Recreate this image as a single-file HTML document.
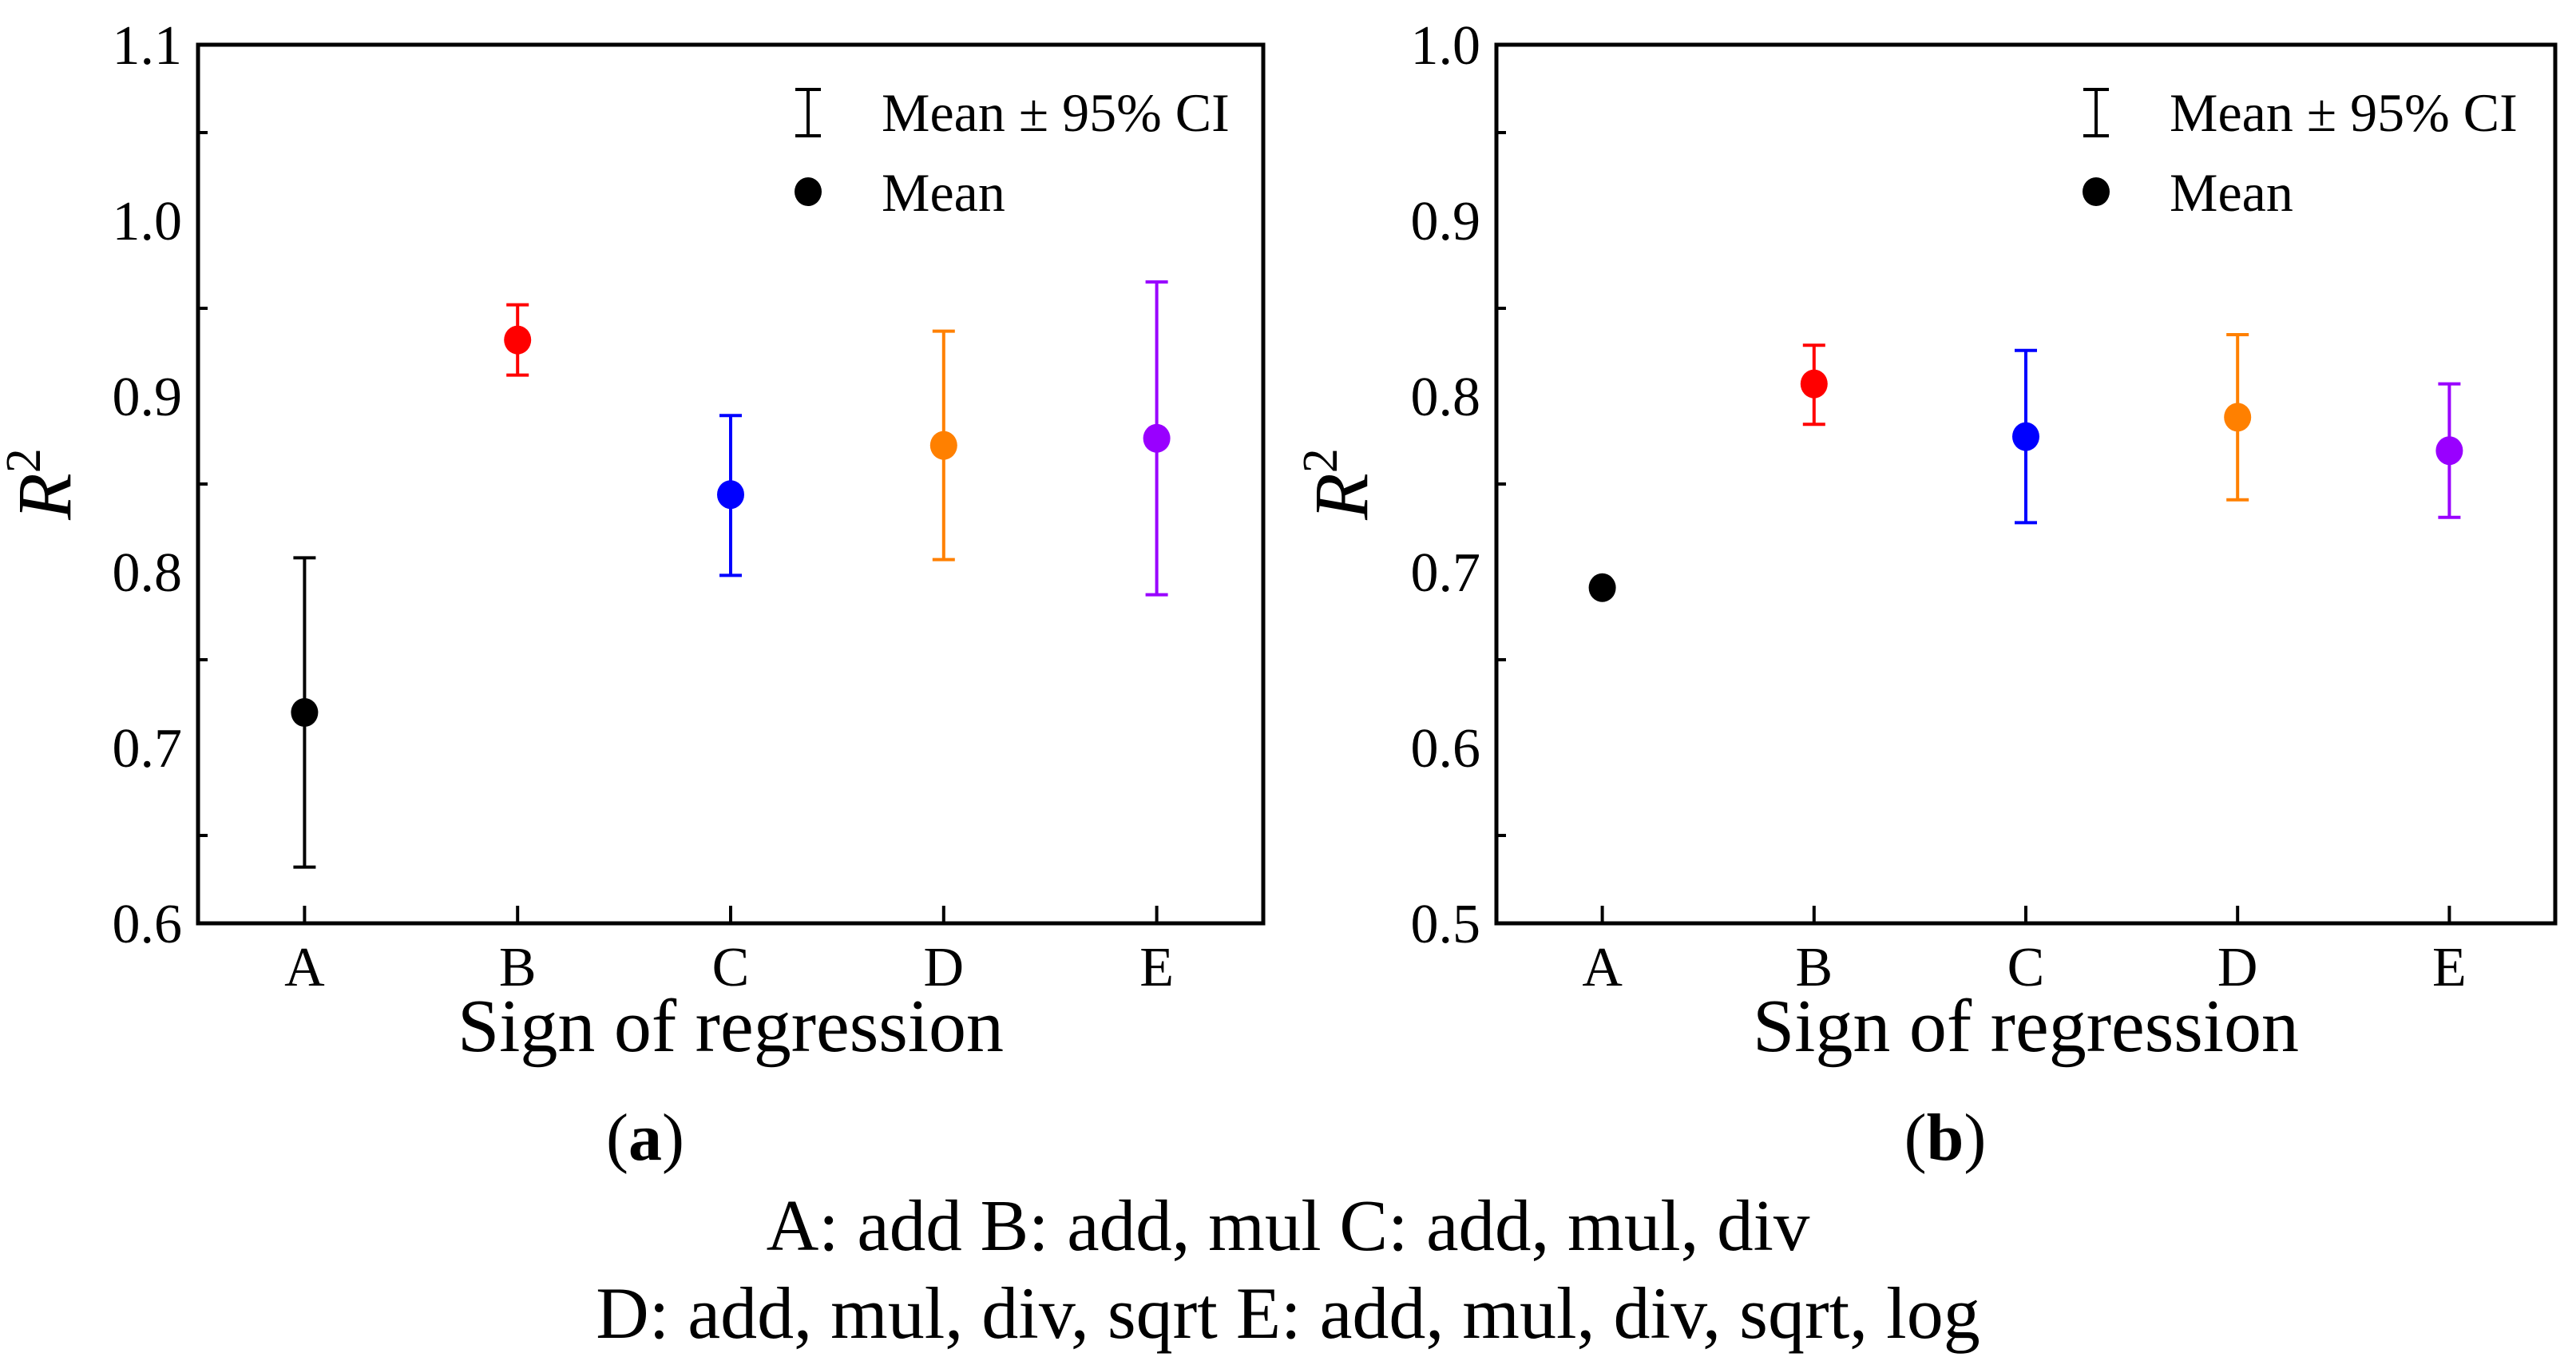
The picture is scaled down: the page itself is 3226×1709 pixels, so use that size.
<!DOCTYPE html>
<html><head><meta charset="utf-8">
<style>
html,body{margin:0;padding:0;background:#fff;}
svg{display:block;font-family:"Liberation Serif",serif;}
</style></head>
<body>
<svg id="fig" width="3226" height="1709" viewBox="0 0 3226 1709" xmlns="http://www.w3.org/2000/svg">
<rect width="3226" height="1709" fill="#fff"/>
<g id="pa"></g>
<g id="pb"></g>
<text x="808" y="1452" font-size="84" text-anchor="middle">(<tspan font-weight="bold">a</tspan>)</text>
<text x="2436" y="1452" font-size="84" text-anchor="middle">(<tspan font-weight="bold">b</tspan>)</text>
<text x="1613" y="1565" font-size="91" text-anchor="middle">A: add B: add, mul C: add, mul, div</text>
<text x="1613" y="1675" font-size="92" text-anchor="middle">D: add, mul, div, sqrt E: add, mul, div, sqrt, log</text>
</svg>
<script>
const categories = ["A","B","C","D","E"];
const colors = ["#000000","#ff0000","#0000ff","#ff8000","#9900ff"];
const meanA = [0.720, 0.932, 0.844, 0.872, 0.876];
const lowA  = [0.632, 0.912, 0.798, 0.807, 0.787];
const highA = [0.808, 0.952, 0.889, 0.937, 0.965];
const ticksA = [0.6, 0.7, 0.8, 0.9, 1.0, 1.1];
const meanB = [0.691, 0.807, 0.777, 0.788, 0.769];
const lowB  = [null, 0.784, 0.728, 0.741, 0.731];
const highB = [null, 0.829, 0.826, 0.835, 0.807];
const ticksB = [0.5, 0.6, 0.7, 0.8, 0.9, 1.0];

const NS = "http://www.w3.org/2000/svg";
function mk(parent, tag, attrs, text){
  const e = document.createElementNS(NS, tag);
  for (const k in attrs) e.setAttribute(k, attrs[k]);
  if (text !== undefined) e.textContent = text;
  parent.appendChild(e);
  return e;
}
function panel(g, L, R, T, B, ticks, mean, low, high, legX, ylabX){
  const y0 = ticks[0], y1 = ticks[ticks.length-1];
  const ys = v => B - (v - y0) / (y1 - y0) * (B - T);
  const xs = i => L + (i + 0.5) * (R - L) / categories.length;
  const frame = mk(g, "rect", {x:L, y:T, width:R-L, height:B-T, fill:"none", stroke:"#000", "stroke-width":5});
  
  
  ticks.forEach((t, i) => {
    const y = ys(t);
    const lab = mk(g, "text", {x:L-20, y:y+24, "font-size":70, "text-anchor":"end"}, t.toFixed(1));
    
    
    if (i < ticks.length - 1) {
      const ym = ys(t + (ticks[1]-ticks[0])/2);
      const mt = mk(g, "line", {x1:L, x2:L+12, y1:ym, y2:ym, stroke:"#000", "stroke-width":4});
      
      
    }
  });
  categories.forEach((c, i) => {
    const x = xs(i);
    const tk = mk(g, "line", {x1:x, x2:x, y1:B, y2:B-22, stroke:"#000", "stroke-width":4});
    
    
    const lab = mk(g, "text", {x:x, y:B+78, "font-size":70, "text-anchor":"middle"}, c);
    
    
    if (low[i] !== null) {
      const eb = mk(g, "path", {d:`M${x},${ys(low[i])}V${ys(high[i])}M${x-14},${ys(low[i])}H${x+14}M${x-14},${ys(high[i])}H${x+14}`, stroke:colors[i], "stroke-width":4, fill:"none"});
      
      
    }
    const pt = mk(g, "ellipse", {cx:x, cy:ys(mean[i]), rx:17, ry:18, fill:colors[i]});
    
    
  });
  const xt = mk(g, "text", {x:(L+R)/2, y:B+160, "font-size":94, "text-anchor":"middle"}, "Sign of regression");
  
  
  const yt = mk(g, "text", {x:0, y:0, "font-size":96, "text-anchor":"middle", transform:`translate(${ylabX},${(T+B)/2}) rotate(-90)`});
  
  
  mk(yt, "tspan", {"font-style":"italic"}, "R");
  mk(yt, "tspan", {dy:-38, "font-size":62}, "2");
  const leg = mk(g, "g", {});
  
  
  const li = mk(leg, "path", {d:`M${legX},${112}V${170}M${legX-16},112H${legX+16}M${legX-16},170H${legX+16}`, stroke:"#000", "stroke-width":4, fill:"none"});
  
  
  const lt = mk(leg, "text", {x:legX+92, y:164, "font-size":68}, "Mean \u00b1 95% CI");
  
  
  const ld = mk(leg, "ellipse", {cx:legX, cy:240, rx:17, ry:18, fill:"#000"});
  
  
  const lm = mk(leg, "text", {x:legX+92, y:264, "font-size":68}, "Mean");
  
  
}
panel(document.getElementById("pa"), 248, 1582, 56, 1156, ticksA, meanA, lowA, highA, 1012, 88);
panel(document.getElementById("pb"), 1874, 3200, 56, 1156, ticksB, meanB, lowB, highB, 2625, 1712);
</script>
</body></html>
